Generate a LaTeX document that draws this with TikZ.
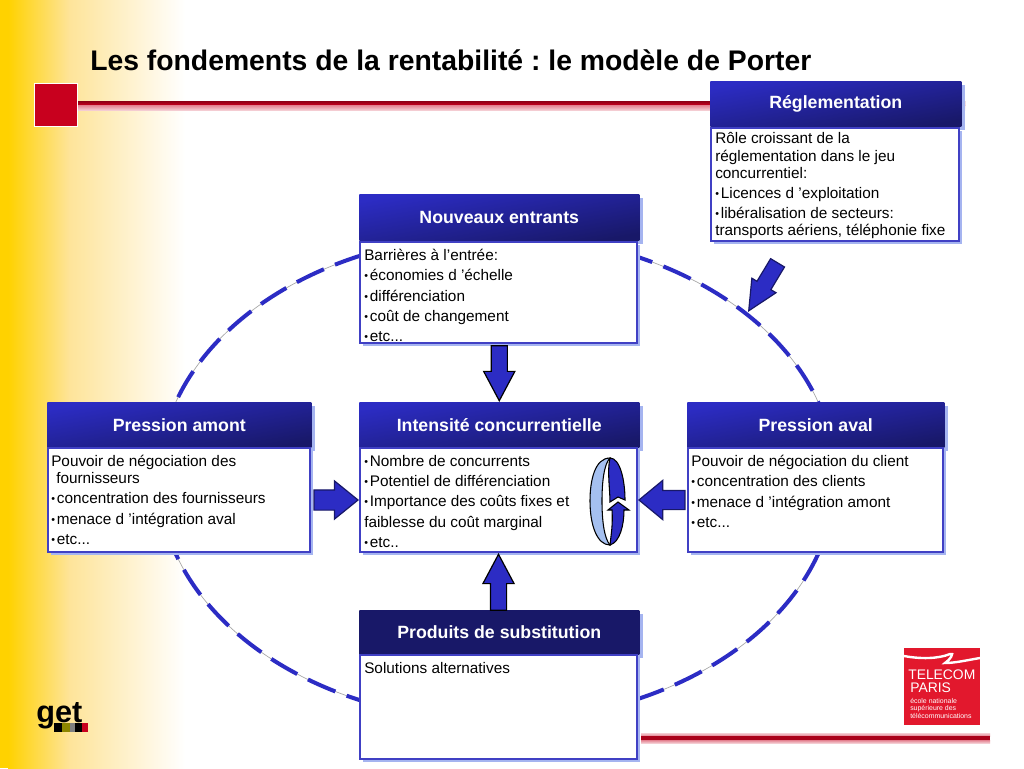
\documentclass[tikz,border=0pt]{standalone}
\usepackage{fontspec}
\setmainfont{Liberation Sans}
\usetikzlibrary{positioning}
\usetikzlibrary{shadows}
\usetikzlibrary{shapes.arrows}
\definecolor{myblue}{RGB}{44,44,196}
\definecolor{mydark}{RGB}{24,24,104}
\definecolor{myedge}{RGB}{64,64,196}
\definecolor{myshadow}{RGB}{165,180,240}
\definecolor{myred}{RGB}{200,0,30}
\definecolor{mylogo}{RGB}{226,24,45}
\definecolor{myyellow}{RGB}{255,210,0}
\definecolor{mypale}{RGB}{254,228,154}
\definecolor{mylight}{RGB}{165,192,240}
\def\px{0.75pt}
\frenchspacing
\newcommand\bul{{\fontsize{8}{8}\selectfont\raisebox{0.7pt}{•}\kern1.4pt}}
\tikzset{
boxshadow/.style={drop shadow={shadow xshift=2.6pt,shadow yshift=-2.6pt,fill=myshadow,opacity=1}},
hdrbox/.style={boxshadow,rectangle,inner sep=0pt,text=white,top color=myblue,middle color=myblue,bottom color=mydark,
  shading angle=10,font=\fontsize{13.3}{15}\bfseries\selectfont},
hdrflip/.style={top color=mydark,middle color=myblue,bottom color=mydark,shading angle=10},
bodybox/.style={boxshadow,rectangle,inner sep=0pt,draw=myedge,line width=1.5pt,fill=white},
bodytext/.style={inner sep=0pt,align=left,anchor=north west,font=\fontsize{11.5}{12.8}\selectfont},
blockarrow/.style={single arrow,draw=black,fill=myblue,line width=0.9pt,inner xsep=0pt,
  single arrow head indent=0pt},
logotext/.style={inner sep=0pt,anchor=base west,text=white},
}
\begin{document}
\begin{tikzpicture}[x=0.75pt,y=-0.75pt]
\useasboundingbox (0,0) rectangle (1024,768);
\fill[white] (0,0) rectangle (1024,768);
\fill[myyellow] (0,0) rectangle (8,768);
\fill[left color=myyellow,right color=mypale] (8,0) rectangle (70,768);
\fill[left color=mypale,right color=white] (70,0) rectangle (185,768);

\node[inner sep=0pt,anchor=base west,font=\fontsize{21.25}{24}\bfseries\selectfont] (title) at (90,70) {Les fondements de la rentabilité : le modèle de Porter};

\fill[top color=myred!70!black,bottom color=myred] (78,101) rectangle (965,105);
\fill[top color=myred!50,bottom color=myred!20] (78,105) rectangle (965,110);
\fill[top color=myred!20,bottom color=myred!50] (641,733) rectangle (990,736);
\fill[myred!85!black] (641,736) rectangle (990,740);
\fill[top color=myred!50,bottom color=myred!20] (641,740) rectangle (990,743);
\node[rectangle,draw=white,line width=1pt,fill=myred,minimum size=43*\px,inner sep=0pt,anchor=north west] (redsquare) at (34,83) {};

\draw[black!35,line width=0.5pt] (497,478) ellipse[x radius=338,y radius=243];
\draw[myblue,line width=3pt,dash pattern=on 22.5pt off 9pt,dash phase=4pt] (497,478) ellipse[x radius=338,y radius=243];

\node[hdrbox,minimum width=251*\px,minimum height=45*\px,anchor=north west] (hdrReglement) at (710,81) {Réglementation};
\node[bodybox,minimum width=248*\px,minimum height=113*\px,anchor=north west] (bodyReglement) at (710,127) {};
\node[bodytext] (txtReglement) at (715,132.5) {Rôle croissant de la\\réglementation dans le jeu\\concurrentiel:\\[2.4pt]\bul Licences d ’exploitation\\[2.4pt]\bul libéralisation de secteurs:\\transports aériens, téléphonie fixe};

\node[hdrbox,minimum width=280*\px,minimum height=46*\px,anchor=north west] (hdrNouveaux) at (359,194) {Nouveaux entrants};
\node[bodybox,minimum width=277*\px,minimum height=101*\px,anchor=north west] (bodyNouveaux) at (359,241) {};
\node[bodytext] (txtNouveaux) at (364,249) {Barrières à l'entrée:\\[2.4pt]\bul économies d ’échelle\\[2.4pt]\bul différenciation\\[2.4pt]\bul coût de changement\\[2.4pt]\bul etc...};

\node[hdrbox,minimum width=264*\px,minimum height=45*\px,anchor=north west] (hdrAmont) at (47,402) {Pression amont};
\node[bodybox,minimum width=262*\px,minimum height=104*\px,anchor=north west] (bodyAmont) at (47,447) {};
\node[bodytext] (txtAmont) at (51,455) {Pouvoir de négociation des\\\hspace*{3.75pt}fournisseurs\\[2.4pt]\bul concentration des fournisseurs\\[2.4pt]\bul menace d ’intégration aval\\[2.4pt]\bul etc...};

\node[hdrbox,minimum width=280*\px,minimum height=45*\px,anchor=north west] (hdrIntensite) at (359,402) {Intensité concurrentielle};
\node[bodybox,minimum width=277*\px,minimum height=104*\px,anchor=north west] (bodyIntensite) at (359,447) {};
\node[bodytext] (txtIntensite) at (364,455) {\bul Nombre de concurrents\\[2.4pt]\bul Potentiel de différenciation\\[2.4pt]\bul Importance des coûts fixes et\\[2.4pt]faiblesse du coût marginal\\[2.4pt]\bul etc..};

\node[hdrbox,minimum width=257*\px,minimum height=45*\px,anchor=north west] (hdrAval) at (687,402) {Pression aval};
\node[bodybox,minimum width=255*\px,minimum height=104*\px,anchor=north west] (bodyAval) at (687,447) {};
\node[bodytext] (txtAval) at (691,455) {Pouvoir de négociation du client\\[2.4pt]\bul concentration des clients\\[2.4pt]\bul menace d ’intégration amont\\[2.4pt]\bul etc...};

\node[hdrbox,hdrflip,minimum width=280*\px,minimum height=44*\px,anchor=north west] (hdrProduits) at (359,610) {Produits de substitution};
\node[bodybox,minimum width=277*\px,minimum height=104*\px,anchor=north west] (bodyProduits) at (359,654) {};
\node[bodytext] (txtProduits) at (364,662) {Solutions alternatives};

\node[blockarrow,minimum height=55*\px,inner ysep=7.5*\px,single arrow head extend=7.5*\px,single arrow tip angle=56,rotate=270,anchor=tip] (arrowTop) at (hdrIntensite.north) {};
\node[blockarrow,minimum height=56*\px,inner ysep=7.5*\px,single arrow head extend=7.5*\px,single arrow tip angle=56,rotate=90,anchor=tip] (arrowBottom) at (bodyIntensite.south) {};
\node[blockarrow,draw=mydark,minimum height=44*\px,inner ysep=9.5*\px,single arrow head extend=9*\px,single arrow tip angle=78,anchor=tip] (arrowLeft) at (bodyIntensite.west) {};
\node[blockarrow,draw=mydark,minimum height=46*\px,inner ysep=9*\px,single arrow head extend=10*\px,single arrow tip angle=79,rotate=180,anchor=tip] (arrowRight) at (bodyIntensite.east) {};
\coordinate (arrowEnd) at (748,312);
\node[blockarrow,draw=mydark,minimum height=56*\px,inner ysep=7.5*\px,single arrow head extend=6*\px,single arrow tip angle=51,rotate=239,anchor=tip] (arrowDiag) at (arrowEnd) {};

\draw[black,line width=0.8pt,fill=mylight] (610,458) .. controls (595,458) and (590,480) .. (590,501) .. controls (590,525) and (597,545) .. (610,545) .. controls (604,538) and (602,520) .. (602,501) .. controls (602,482) and (604,464) .. (610,458) -- cycle;
\draw[black,line width=0.8pt,fill=myblue] (610,458) .. controls (620,458) and (625,480) .. (625,500) -- (618,497) -- (610,502) .. controls (610,490) and (607,470) .. (610,458) -- cycle;
\draw[black,line width=0.8pt,fill=myblue] (610,545) .. controls (620,542) and (624,525) .. (624,510) -- (629,510) -- (618,502) -- (608,510) -- (612,510) .. controls (613,525) and (611,535) .. (610,545) -- cycle;

\fill[mylogo] (904,648) rectangle (980,725);
\draw[white,line width=1.8pt] (904,656) .. controls (920,659) and (938,659) .. (950,654) .. controls (955,652) and (950,660) .. (945,663) .. controls (955,663) and (968,660) .. (980,658);
\node[logotext,font=\fontsize{10.4}{12}\selectfont] (logoTelecom) at (908,679) {TELECOM};
\node[logotext,font=\fontsize{10.4}{12}\selectfont] (logoParis) at (910,692) {PARIS};
\node[logotext,font=\fontsize{5.2}{6}\selectfont] (logoEcole) at (910,703) {école nationale};
\node[logotext,font=\fontsize{5.2}{6}\selectfont] (logoSuper) at (910,710) {supérieure des};
\node[logotext,font=\fontsize{5.2}{6}\selectfont] (logoTele) at (910,718) {télécommunications};

\node[inner sep=0pt,anchor=base west,font=\fontsize{23}{24}\bfseries\selectfont] (logoGet) at (36,722) {get};
\foreach \xa/\xb/\col in {54/62/black,62/70/olive,70/75/gray,75/82/black,82/88/myred}{
\fill[\col] (\xa,723) rectangle (\xb,732);
}

\end{tikzpicture}
\end{document}
